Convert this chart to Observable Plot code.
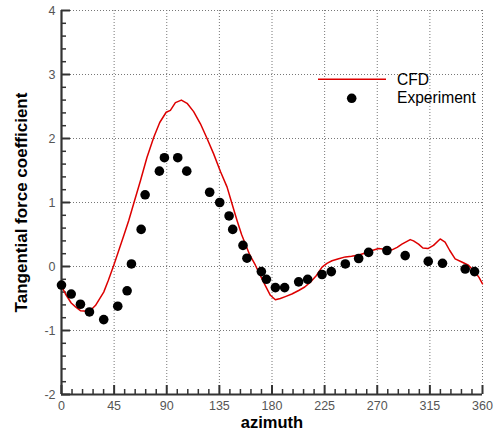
<!DOCTYPE html>
<html>
<head>
<meta charset="utf-8">
<script src="https://cdn.jsdelivr.net/npm/d3@7"></script>
<script src="https://cdn.jsdelivr.net/npm/@observablehq/plot@0.6"></script>
<style>
  body { margin: 0; background: #fff; }
  #chart { position: relative; width: 495px; height: 435px; }
  svg { font-family: "Liberation Sans", Arial, sans-serif; }
</style>
</head>
<body>
<div id="chart"></div>
<script>
// CFD curve: azimuth (deg) and tangential force coefficient
const cfdAz = [0, 3.4, 8.3, 12, 16.2, 21.9, 25, 29, 36.1, 40, 44.7, 53.2, 57.5, 62, 67.5, 73, 78.9, 84, 89.5, 93.1, 97.4, 102.5, 107.4, 113, 118.8, 124, 130.1, 136, 141.6, 146, 150.1, 154, 157.2, 161, 165.8, 170, 174.3, 178.6, 182.9, 187.1, 191.4, 197, 202.8, 208, 212.8, 218, 222.8, 227, 231.3, 237, 242.7, 248, 254.1, 260, 265.5, 271.2, 276, 282.6, 287, 291.1, 298.2, 301, 305.3, 309, 313.3, 318.1, 323.8, 328.0, 332, 336.6, 342.3, 348, 353.7, 357, 360];
const cfdCt = [-0.30, -0.43, -0.57, -0.63, -0.69, -0.70, -0.68, -0.61, -0.40, -0.22, 0.02, 0.48, 0.72, 1.00, 1.34, 1.70, 2.02, 2.25, 2.41, 2.44, 2.56, 2.60, 2.55, 2.42, 2.23, 2.02, 1.76, 1.48, 1.24, 0.97, 0.72, 0.50, 0.35, 0.18, 0.02, -0.14, -0.30, -0.45, -0.52, -0.50, -0.47, -0.43, -0.375, -0.32, -0.245, -0.14, -0.01, 0.05, 0.09, 0.12, 0.15, 0.16, 0.18, 0.21, 0.25, 0.28, 0.27, 0.26, 0.30, 0.35, 0.42, 0.40, 0.35, 0.29, 0.28, 0.33, 0.43, 0.38, 0.25, 0.12, 0.07, 0.02, -0.09, -0.17, -0.27];

// Experiment points
const expAz = [0, 8.3, 16.2, 23.9, 36.1, 48.1, 56.1, 59.8, 68.1, 71.5, 83.7, 88.0, 99.4, 107.1, 126.7, 135.3, 143.3, 146.4, 155.2, 158.6, 170.9, 175.2, 182.9, 190.8, 202.8, 210.5, 222.8, 230.7, 242.7, 254.1, 262.6, 278.3, 293.9, 313.6, 325.8, 345.2, 353.2];
const expCt = [-0.29, -0.43, -0.59, -0.71, -0.83, -0.62, -0.38, 0.04, 0.58, 1.12, 1.49, 1.70, 1.70, 1.49, 1.16, 1.00, 0.79, 0.58, 0.33, 0.13, -0.08, -0.20, -0.33, -0.33, -0.24, -0.20, -0.125, -0.08, 0.04, 0.125, 0.22, 0.25, 0.17, 0.08, 0.05, -0.04, -0.08];

// Ticks
const xTicks = [0, 45, 90, 135, 180, 225, 270, 315, 360];
const yTicks = [-2, -1, 0, 1, 2, 3, 4];
const xMinor = d3.range(0, 361, 9).filter(v => v % 45 !== 0);
const yMinor = d3.range(-2, 4.001, 0.2).map(v => Math.round(v * 10) / 10).filter(v => Math.abs(v - Math.round(v)) > 1e-6);

const seriesNames = ["CFD", "Experiment"];
const xLabel = "azimuth";
const yLabel = "Tangential force coefficient";

const cfd = cfdAz.map((a, i) => ({az: a, ct: cfdCt[i]}));
const exp = expAz.map((a, i) => ({az: a, ct: expCt[i]}));

const W = 495, H = 435, mL = 61, mR = 13, mT = 10, mB = 41;
const frameW = W - mL - mR, frameH = H - mT - mB;
const axisColor = "#333";
const tickFont = 12.5;

const plot = Plot.plot({
  width: W, height: H,
  marginLeft: mL, marginRight: mR, marginTop: mT, marginBottom: mB,
  x: {domain: [0, 360]},
  y: {domain: [-2, 4]},
  style: {fontFamily: "'Liberation Sans', Arial, sans-serif", background: "#fff"},
  marks: [
    Plot.gridX(xTicks, {stroke: "#777", strokeOpacity: 1, strokeDasharray: "1,2"}),
    Plot.gridY(yTicks, {stroke: "#777", strokeOpacity: 1, strokeDasharray: "1,2"}),
    // inward ticks
    Plot.tickX(xTicks, {x: d => d, insetTop: frameH - 9, stroke: axisColor, strokeWidth: 2}),
    Plot.tickX(xMinor, {x: d => d, insetTop: frameH - 5, stroke: axisColor, strokeWidth: 1.5}),
    Plot.tickY(yTicks, {y: d => d, insetRight: frameW - 9, stroke: axisColor, strokeWidth: 2}),
    Plot.tickY(yMinor, {y: d => d, insetRight: frameW - 5, stroke: axisColor, strokeWidth: 1.5}),
    Plot.ruleX([0], {stroke: axisColor, strokeWidth: 2.2}),
    Plot.ruleY([-2], {stroke: axisColor, strokeWidth: 2.2}),
    Plot.axisX(xTicks, {tickSize: 0, tickPadding: 7, fontSize: tickFont, fill: "#555", label: null, tickFormat: d => String(d)}),
    Plot.axisY(yTicks, {tickSize: 0, tickPadding: 6, fontSize: tickFont, fill: "#555", label: null, tickFormat: d => String(d)}),
    Plot.text([xLabel], {frameAnchor: "bottom", dy: 33, lineAnchor: "bottom", fontSize: 16.5, fontWeight: "bold", fill: "#000"}),
    Plot.text([yLabel], {frameAnchor: "left", dx: -34.3, rotate: -90, textAnchor: "middle", lineAnchor: "bottom", fontSize: 17, fontWeight: "bold", fill: "#000"}),
    Plot.line(cfd, {x: "az", y: "ct", stroke: "#dd0000", strokeWidth: 1.5}),
    Plot.dot(exp, {x: "az", y: "ct", r: 4.8, fill: "#000", stroke: "none"})
  ]
});

// Legend (drawn in pixel space over the plot)
const svg = d3.select(plot);
const lg = svg.append("g").attr("font-family", "'Liberation Sans', Arial, sans-serif").attr("font-size", 15.6).attr("text-anchor", "start");
lg.append("line").attr("x1", 318).attr("x2", 386).attr("y1", 79.3).attr("y2", 79.3)
  .attr("stroke", "#dd0000").attr("stroke-width", 1.5);
lg.append("text").attr("x", 397).attr("y", 80).attr("dy", "0.35em").attr("fill", "#000").text(seriesNames[0]);
lg.append("circle").attr("cx", 351.7).attr("cy", 98.3).attr("r", 4.8).attr("fill", "#000");
lg.append("text").attr("x", 397).attr("y", 97.5).attr("dy", "0.35em").attr("fill", "#000").text(seriesNames[1]);

document.getElementById("chart").appendChild(plot);
</script>
</body>
</html>
